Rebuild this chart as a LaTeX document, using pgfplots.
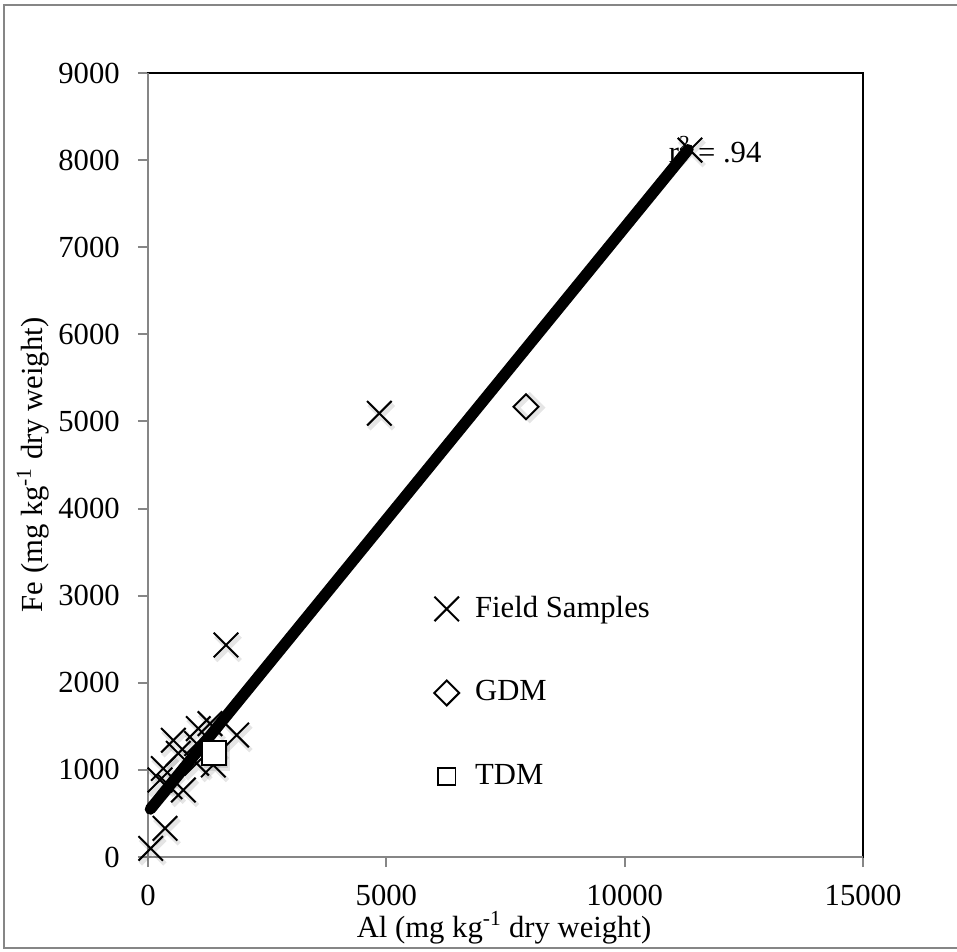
\documentclass[border=0pt]{standalone}
\usepackage{pgfplots}
\pgfplotsset{compat=1.18}
\usepackage{fontspec}
\setmainfont{Liberation Serif}

\definecolor{axisgray}{RGB}{134,134,134}

\begin{document}
\fontsize{23}{27}\selectfont
\begin{tikzpicture}
\useasboundingbox (0,0) rectangle (717.75pt,713.25pt);
% outer chart frame (its right edge runs off the page)
\draw[axisgray, line width=1.5pt] (730pt,709.5pt) -- (3pt,709.5pt) -- (3pt,2.25pt) -- (730pt,2.25pt);
\begin{axis}[
  at={(111pt,70.5pt)}, anchor=south west,
  scale only axis, width=536.25pt, height=588pt,
  xmin=0, xmax=15000, ymin=0, ymax=9000,
  xtick={0,5000,10000,15000},
  ytick={0,1000,2000,3000,4000,5000,6000,7000,8000,9000},
  scaled ticks=false,
  /pgf/number format/1000 sep={},
  /pgf/number format/assume math mode=true,
  tick align=outside,
  major tick length=7.5pt,
  xtick pos=bottom, ytick pos=left,
  tick style={axisgray, line width=1.5pt},
  axis line style={black, line width=1.5pt},
  xticklabel style={anchor=center, inner sep=0pt, yshift=-21pt},
  yticklabel style={anchor=east, inner sep=0pt, xshift=-13.5pt},
  xlabel={Al (mg kg\textsuperscript{-1} dry weight)},
  ylabel={Fe (mg kg\textsuperscript{-1} dry weight)},
  every axis x label/.style={at={(axis description cs:0.498,-0.0906)}, anchor=center},
  every axis y label/.style={at={(axis description cs:-0.1608,0.5)}, rotate=90, anchor=center},
  legend style={at={(axis cs:6000,3030)}, anchor=north west, draw=none, fill=none,
    row sep=40pt, column sep=10pt, inner sep=0pt},
  legend cell align=left,
  clip=false,
]
% left and bottom axis lines are grey
\draw[axisgray, line width=1.5pt] (rel axis cs:0,1) -- (rel axis cs:0,0) -- (rel axis cs:1,0);

\node[anchor=base west, inner sep=0pt] at (axis cs:10920,7967) {r\textsuperscript{2} = .94};

% soft shadows under the markers
\addplot[only marks, forget plot, mark=x, mark size=13pt,
  mark options={line width=3.5pt, black, opacity=0.10, xshift=1.5pt, yshift=-2.5pt}] coordinates {
  (57,99) (357,329) (321,1016) (252,884) (462,807) (741,769)
  (531,1340) (636,1190) (1021,1302) (1055,1474) (1301,1531)
  (1860,1400) (1370,1056) (1021,1076) (1636,2434) (4853,5094)
  (11370,8115)
};

\addplot[only marks, mark=x, mark size=13pt, mark options={line width=1.5pt, black}] coordinates {
  (57,99) (357,329) (321,1016) (252,884) (462,807) (741,769)
  (531,1340) (636,1190) (1021,1302) (1055,1474) (1301,1531)
  (1860,1400) (1370,1056) (1021,1076) (1636,2434) (4853,5094)
  (11370,8115)
};
\addlegendentry{Field Samples}

% linear trend line
\addplot[black, line width=8.5pt, line cap=round, forget plot] coordinates {(50,550) (11330,8120)};

\addplot[only marks, forget plot, mark=square, mark size=6.6pt,
  mark options={rotate=45, line width=3.5pt, black, opacity=0.10, xshift=1.5pt, yshift=-2.5pt}] coordinates {
  (7930,5169)
};
\addplot[only marks, mark=square, mark size=6.6pt, mark options={rotate=45, line width=1.5pt, black, fill=white}] coordinates {
  (7930,5169)
};
\addlegendentry{GDM}

\addplot[only marks, forget plot, mark=square*, mark size=9pt,
  mark options={line width=3.5pt, draw=black, fill=black, opacity=0.10, xshift=1.5pt, yshift=-2.5pt}] coordinates {
  (1385,1195)
};
\addplot[only marks, mark=square*, mark size=9pt, mark options={line width=1.5pt, draw=black, fill=white},
  legend image code/.code={\draw[mark=square*, mark size=6.5pt, mark options={line width=1.2pt, draw=black, fill=white}] plot coordinates {(0.3cm,0cm)};}] coordinates {
  (1385,1195)
};
\addlegendentry{TDM}
\end{axis}
\end{tikzpicture}
\end{document}
